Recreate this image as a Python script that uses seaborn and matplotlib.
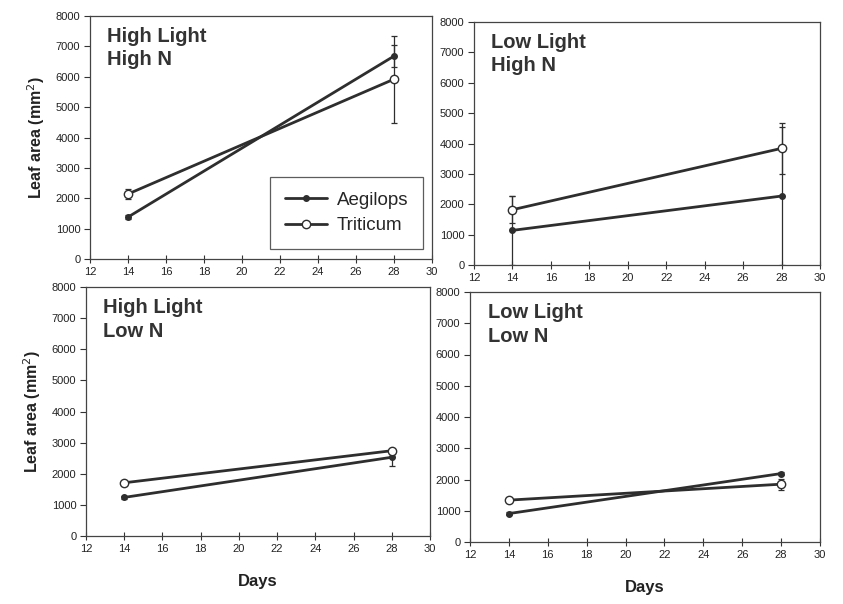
import numpy as np
import pandas as pd
import matplotlib
matplotlib.use("Agg")
import matplotlib.pyplot as plt
import seaborn as sns

sns.set_theme(style="white")
plt.rcParams['font.family'] = ['Liberation Sans', 'DejaVu Sans']

days = [14, 28]
panels = ["High Light\nHigh N", "Low Light\nHigh N", "High Light\nLow N", "Low Light\nLow N"]
aegilops = [[1380, 6680], [1140, 2270], [1240, 2530], [910, 2190]]
aegilops_err = [[60, 360], [1140, 2270], [60, 270], [60, 60]]
triticum = [[2140, 5920], [1820, 3840], [1710, 2740], [1340, 1850]]
triticum_err = [[150, 1430], [440, 840], [60, 60], [60, 180]]
xticks = [12, 14, 16, 18, 20, 22, 24, 26, 28, 30]
yticks = [0, 1000, 2000, 3000, 4000, 5000, 6000, 7000, 8000]

W, H = 843, 604
fig = plt.figure(figsize=(W / 100, H / 100), dpi=100)
boxes = [(90, 16, 432, 259), (474, 22, 820, 265), (86, 287, 430, 536), (470, 292, 820, 542)]
col = "#2e2e2e"

for i, (x0, y0, x1, y1) in enumerate(boxes):
    ax = fig.add_axes([x0 / W, 1 - y1 / H, (x1 - x0) / W, (y1 - y0) / H])
    df = pd.DataFrame({
        "Days": days * 2,
        "area": aegilops[i] + triticum[i],
        "species": ["Aegilops"] * 2 + ["Triticum"] * 2,
    })
    for sp, vals, err, mfc, ms in [("Aegilops", aegilops[i], aegilops_err[i], col, 4.0),
                                   ("Triticum", triticum[i], triticum_err[i], "white", 6.0)]:
        ax.errorbar(days, vals, yerr=err, fmt="none", ecolor=col, elinewidth=0.9,
                    capsize=2.5, capthick=0.9, zorder=2)
        sns.lineplot(data=df[df.species == sp], x="Days", y="area", ax=ax, color=col,
                     lw=2.0, marker="o", markersize=ms, markerfacecolor=mfc,
                     markeredgecolor=col, markeredgewidth=1.0, label=sp, legend=False,
                     zorder=3)
    ax.set_xlim(12, 30)
    ax.set_ylim(0, 8000)
    ax.set_xticks(xticks)
    ax.set_yticks(yticks)
    ax.set_xticklabels([str(t) for t in xticks], fontsize=8, color="#222")
    ax.set_yticklabels([str(t) for t in yticks], fontsize=8, color="#222")
    ax.tick_params(axis="both", direction="out", length=4, width=0.8, color="#333",
                   bottom=True, left=True, pad=3)
    ax.tick_params(axis="x", direction="inout", length=6)
    for s in ax.spines.values():
        s.set_color("#444")
        s.set_linewidth(0.9)
    ax.set_xlabel("")
    ax.set_ylabel("")
    ax.text(0.05, 0.955, panels[i], transform=ax.transAxes, va="top", ha="left",
            fontsize=14.5, fontweight="bold", color="#333", linespacing=1.3)
    if i == 0:
        leg = ax.legend(loc="lower right", bbox_to_anchor=(0.975, 0.04), fontsize=13.5,
                        frameon=True, fancybox=False, edgecolor="#333", handlelength=2.2,
                        handletextpad=0.55, borderpad=0.8, labelspacing=0.45,
                        borderaxespad=0.0)
        leg.get_frame().set_linewidth(0.9)
    if i in (0, 2):
        ax.set_ylabel("Leaf area (mm$^2$)", fontsize=11.5, fontweight="bold", color="#222",
                      labelpad=6)
    if i in (2, 3):
        ax.set_xlabel("Days", fontsize=12, fontweight="bold", color="#222", labelpad=14)

fig.savefig("out.png", dpi=100, facecolor="white")
